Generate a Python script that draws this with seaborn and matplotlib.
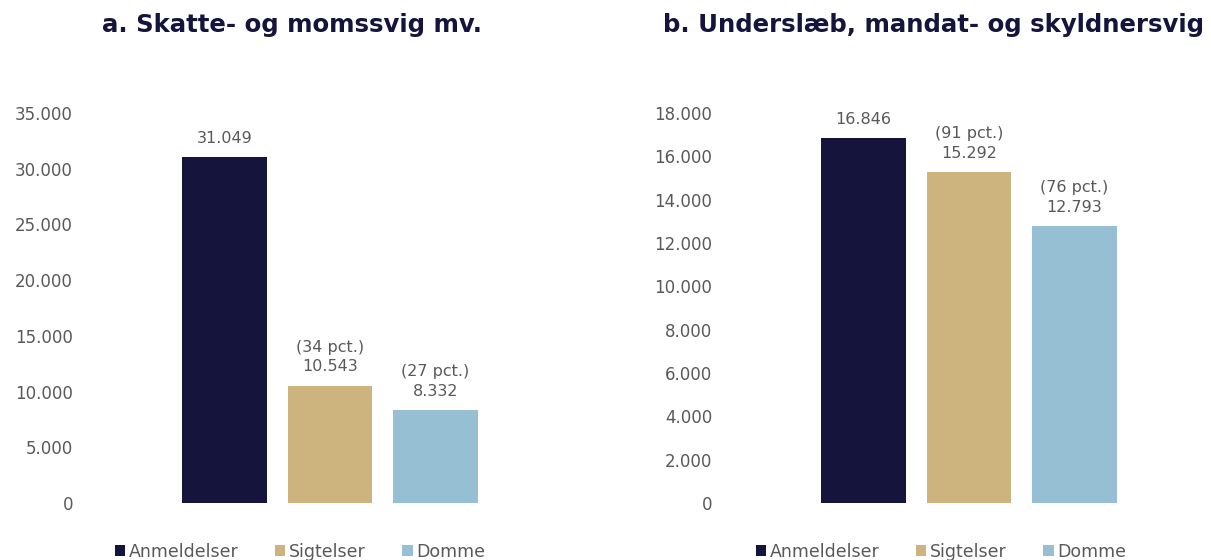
import numpy as np
import pandas as pd
import seaborn as sns
import matplotlib.pyplot as plt
from matplotlib.patches import Patch

categories = ["Anmeldelser", "Sigtelser", "Domme"]
colors = ["#14143C", "#CDB47F", "#96BFD3"]

title_a = "a. Skatte- og momssvig mv."
values_a = [31049, 10543, 8332]
pct_a = [None, 34, 27]

title_b = "b. Underslæb, mandat- og skyldnersvig"
values_b = [16846, 15292, 12793]
pct_b = [None, 91, 76]

sns.set_theme(style="white")
plt.rcParams['font.family'] = ['DejaVu Sans']

grey = "#595959"
navy = "#14143C"


def fmt(v):
    return f"{v:,.0f}".replace(",", ".")


fig = plt.figure(figsize=(12.11, 5.6), dpi=100)
W, H = 1211, 560
ax_a = fig.add_axes([98 / W, 1 - 503 / H, 464 / W, 390 / H])
ax_b = fig.add_axes([737 / W, 1 - 503 / H, 464 / W, 390 / H])

panels = [
    (ax_a, title_a, values_a, pct_a, 35000, 5000, 292),
    (ax_b, title_b, values_b, pct_b, 18000, 2000, 933),
]

for ax, title, vals, pcts, ymax, step, tx in panels:
    df = pd.DataFrame({"cat": categories, "val": vals})
    sns.barplot(data=df, x="cat", y="val", hue="cat", palette=colors,
                hue_order=categories, order=categories, width=0.8,
                legend=False, ax=ax, saturation=1, linewidth=0)
    ax.set_xlim(-1.2, 3.2)
    ax.set_ylim(0, ymax)
    ax.set_yticks(np.arange(0, ymax + 1, step))
    ax.set_yticklabels([fmt(t) for t in np.arange(0, ymax + 1, step)])
    ax.tick_params(axis="y", colors=grey, labelsize=12, length=0, pad=18)
    ax.set_xticks([])
    ax.set_xlabel("")
    ax.set_ylabel("")
    for s in ax.spines.values():
        s.set_visible(False)
    for i, (v, p) in enumerate(zip(vals, pcts)):
        txt = fmt(v) if p is None else f"({p} pct.)\n{fmt(v)}"
        ax.annotate(txt, (i, v), xytext=(0, 8), textcoords="offset points",
                    ha="center", va="bottom", fontsize=11.5, color=grey,
                    linespacing=1.4)
    fig.text(tx / W, 1 - 25 / H, title, ha="center", va="center",
             fontsize=17.6, fontweight="bold", color=navy)
    handles = [Patch(facecolor=c, edgecolor="none") for c in colors]
    fig.legend(handles, categories, loc="center",
               bbox_to_anchor=((tx + 8) / W, 1 - 552 / H), ncol=3,
               frameon=False, fontsize=12.5, labelcolor=grey,
               handlelength=0.6, handleheight=0.6, handletextpad=0.2,
               columnspacing=2.1)

fig.savefig("out.png", dpi=100)
